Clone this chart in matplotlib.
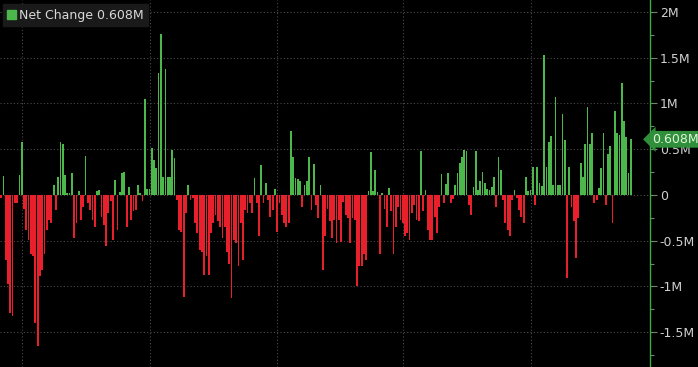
import numpy as np
import matplotlib
matplotlib.use("Agg")
import matplotlib.pyplot as plt
from matplotlib.patches import Patch

# net change per period, in millions (left to right)
seg1 = [-0.03, 0.21, -0.71, -0.97, -1.29, -1.32, -0.09, -0.09, 0.22, 0.58,
        -0.15, -0.38, -0.49, -0.65, -0.67, -1.4, -1.65, -0.89, -0.82, -0.64,
        -0.38, -0.27, -0.31, 0.11, -0.16, 0.2, 0.58, 0.56, 0.22, 0.02,
        0.02, 0.24, -0.47, -0.31, 0.04, -0.27, -0.13, 0.43, -0.09, -0.16,
        -0.27, -0.35]
seg2 = [0.04, 0.05, -0.24, -0.33, -0.56, -0.2, -0.07, -0.49, 0.16, -0.38,
        0.03, 0.24, 0.25, -0.35, 0.09, -0.27, -0.18, -0.16, 0.11, 0.02,
        -0.07, 1.05, 0.07, 0.07, 0.51, 0.38, 0.29, 1.33, 1.76, 0.2,
        1.38, 0.2, 0.2, 0.49, 0.4, -0.05, -0.38, -0.4, -1.11, -0.2,
        0.11, -0.05, -0.03, -0.31, -0.42, -0.6]
seg3 = [-0.62, -0.87, -0.67, -0.87, -0.42, -0.31, -0.22, -0.29, -0.35, -0.47,
        -0.35, -0.62, -0.75, -1.13, -0.49, -0.53, -0.78, -0.31, -0.71, -0.16,
        -0.2, -0.09, -0.2, 0.19, -0.09, -0.45, 0.33, -0.09, 0.13, -0.05,
        -0.24, -0.16, 0.07, -0.4, -0.09, -0.22, -0.31, -0.35, -0.31, 0.7,
        0.42, 0.18, 0.17, 0.15, -0.13, 0.11]
seg4 = [0.15, 0.42, -0.16, 0.34, -0.11, -0.25, 0.11, -0.82, -0.45, -0.15,
        -0.29, -0.47, -0.27, -0.53, -0.27, -0.51, -0.08, -0.22, -0.25, -0.53,
        -0.25, -0.27, -1.0, -0.78, -0.78, -0.64, -0.71, 0.04, 0.47, 0.04,
        0.27, 0.03, -0.65, 0.02, -0.15, -0.35, 0.08, -0.18, -0.65, -0.35,
        -0.13, -0.27, -0.31, -0.45, -0.42, -0.49]
seg5 = [-0.2, -0.11, -0.27, -0.29, 0.48, -0.18, 0.05, -0.38, -0.49, -0.49,
        -0.24, -0.42, -0.13, 0.23, -0.09, 0.12, 0.24, -0.09, -0.04, 0.11,
        0.24, 0.35, 0.42, 0.49, 0.48, -0.11, -0.22, 0.09, 0.48, 0.05,
        0.15, 0.25, 0.13, 0.07, 0.05, 0.09, 0.2, -0.13, 0.42, 0.27,
        -0.05, -0.31, -0.38, -0.45, -0.05, 0.05, -0.03, -0.16, -0.24]
seg6 = [-0.31, 0.2, 0.04, 0.05, 0.3, -0.11, 0.3, 0.13, 0.1, 1.53,
        0.31, 0.58, 0.64, 0.11, 1.07, 0.11, 0.11, 0.88, 0.6, -0.91,
        0.31, -0.13, -0.29, -0.69, -0.25, 0.35, 0.2, 0.56, 0.96, 0.56,
        0.68, -0.09, -0.06, 0.08, 0.29, 0.68, -0.11, 0.45, 0.53, -0.31,
        0.92, 0.68, 0.66, 1.22, 0.81, 0.63, 0.24, 0.608]

values = np.array(seg1 + seg2 + seg3 + seg4 + seg5 + seg6)
last_value = values[-1]

ytick_vals = [2, 1.5, 1, 0.5, 0, -0.5, -1, -1.5]
ytick_labels = ['2M', '1.5M', '1M', '0.5M', '0', '-0.5M', '-1M', '-1.5M']

GREEN = '#4cb84c'
RED = '#e8202c'
AXGREEN = '#3fa848'

W, H = 698, 367
fig = plt.figure(figsize=(W/100., H/100.), dpi=100, facecolor='black')
ax = fig.add_axes([0, 0, 650./W, 1])
ax.set_facecolor('black')

n = len(values)
x = np.arange(n)
colors = [GREEN if v >= 0 else RED for v in values]
ax.bar(x, values, width=0.78, color=colors, linewidth=0, zorder=2)

# bars occupy the first ~632 of the 650 px plot width
xmax = -0.5 + n * 650. / 632.
ax.set_xlim(-0.5, xmax)
ax.set_ylim(-1.88, 2.13)

# vertical grid positions (fraction of plot width)
vfrac = np.array([22, 150, 277, 403, 531]) / 650.
ax.set_xticks(-0.5 + vfrac * (xmax + 0.5))
ax.tick_params(axis='x', length=0, labelbottom=False)

ax.yaxis.tick_right()
ax.set_yticks(ytick_vals)
ax.set_yticklabels(ytick_labels)
ax.set_yticks(np.arange(-1.75, 2.1, 0.25), minor=True)
ax.tick_params(axis='y', which='major', direction='out', length=5, width=0.8,
               color='#6a8a6a', labelcolor='#d0d0d0', labelsize=9, pad=2)
ax.tick_params(axis='y', which='minor', direction='out', length=3, width=0.8,
               color='#6a8a6a')

ax.grid(True, which='major', color='#4a4a4a', ls=(0, (1, 2)), lw=0.8, zorder=0)

for s in ['top', 'bottom', 'left']:
    ax.spines[s].set_visible(False)
ax.spines['right'].set_color(AXGREEN)
ax.spines['right'].set_linewidth(1.0)

# last value marker on the axis
ax.text(1.003, last_value, '%.3fM' % last_value, transform=ax.get_yaxis_transform(),
        ha='left', va='center', color='#e0f5dc', fontsize=9, zorder=5, clip_on=False,
        bbox=dict(boxstyle='larrow,pad=0.15', fc='#2f8f3a', ec='none'))

handle = Patch(color=GREEN)
leg = ax.legend([handle], ['Net Change %.3fM' % last_value], loc='upper left',
                bbox_to_anchor=(0.0, 0.995), frameon=True, fancybox=False,
                facecolor='#1a1a1a', edgecolor='#1a1a1a', framealpha=1,
                labelcolor='#d8d8d8', fontsize=9, handlelength=0.7,
                handleheight=0.7, handletextpad=0.3, borderpad=0.35,
                borderaxespad=0.2)
leg.set_zorder(6)

fig.savefig('out.png', dpi=100, facecolor='black')
